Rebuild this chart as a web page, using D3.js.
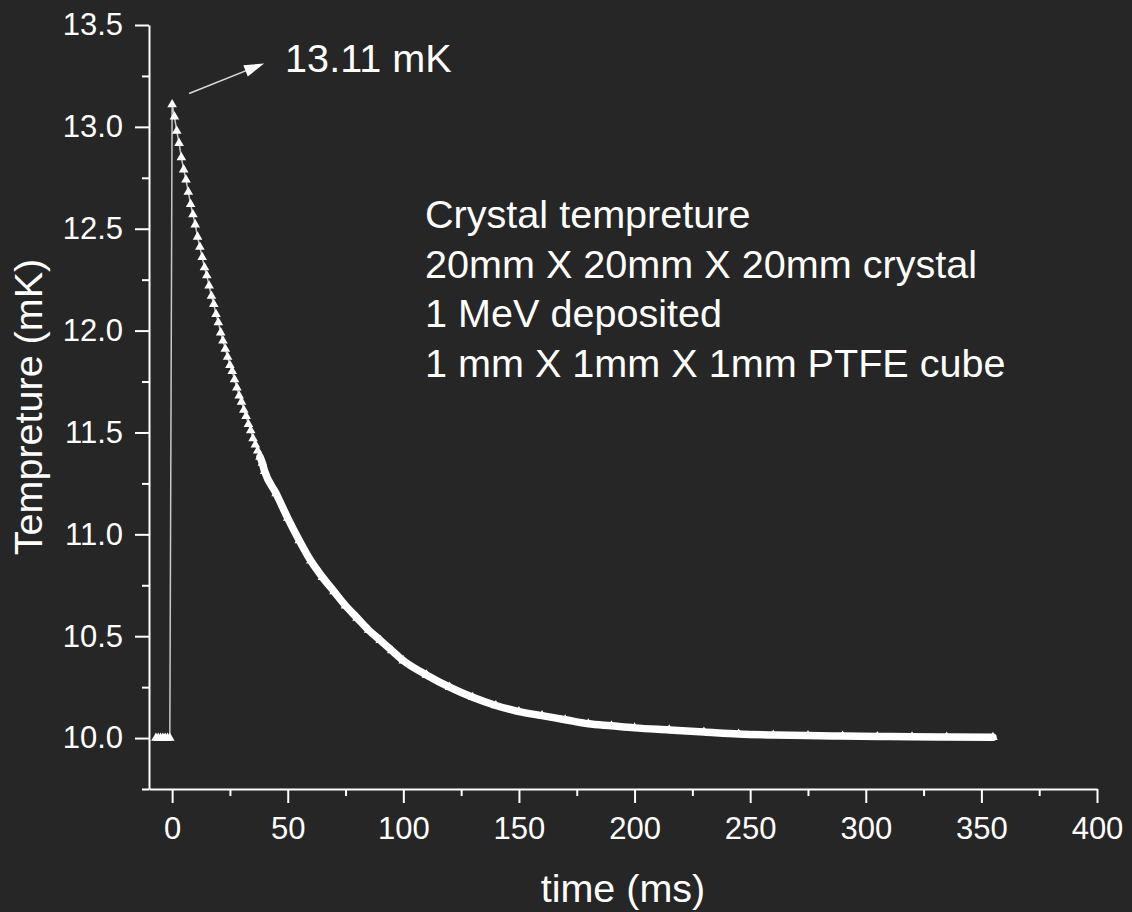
<!DOCTYPE html>
<meta charset="utf-8">
<style>

body {
  margin: 0;
  background: #262626;
}

svg {
  display: block;
  font-family: Arial, "Liberation Sans", sans-serif;
}

.axis path,
.axis line {
  fill: none;
  stroke: #fff;
  stroke-width: 2;
}

.axis text {
  fill: #fff;
  font-size: 31px;
}

.title {
  fill: #fff;
  font-size: 39.5px;
}

.note {
  fill: #fff;
  font-size: 39.6px;
}

</style>

<div id="chart"></div>

<script src="https://d3js.org/d3.v7.min.js"></script>
<script>
// values (ms, mK)
var time = [-7, -6, -5, -4, -3, -2, -1,
  0, 1, 2, 3, 4, 5, 6, 7, 8, 9, 10, 11, 12, 13, 14, 15, 16, 17, 18, 19, 20,
  21, 22, 23, 24, 25, 26, 27, 28, 29, 30, 31, 32, 33, 34, 35, 36, 37, 38, 39, 40,
  45, 50, 55, 60, 65, 70, 75, 80, 85, 90, 95, 100,
  110, 120, 130, 140, 150, 160, 170, 180, 190, 200,
  215, 230, 245, 260, 275, 290, 305, 320, 335, 355];

var temp = [10, 10, 10, 10, 10, 10, 10,
  13.11, 13.05, 12.98, 12.92, 12.85, 12.79, 12.74, 12.68, 12.62, 12.57, 12.52,
  12.46, 12.41, 12.36, 12.31, 12.27, 12.22, 12.17, 12.13, 12.08, 12.04,
  11.99, 11.95, 11.91, 11.87, 11.83, 11.80, 11.76, 11.72, 11.68, 11.65,
  11.61, 11.58, 11.54, 11.51, 11.47, 11.44, 11.41, 11.38, 11.35, 11.31,
  11.20, 11.08, 10.97, 10.87, 10.79, 10.72, 10.65, 10.59, 10.53, 10.48, 10.43, 10.38,
  10.31, 10.25, 10.20, 10.16, 10.13, 10.11, 10.09, 10.07, 10.06, 10.05,
  10.04, 10.03, 10.02, 10.015, 10.012, 10.01, 10.008, 10.006, 10.005, 10.004];

var xMajor = [0, 50, 100, 150, 200, 250, 300, 350, 400];
var xMinor = [25, 75, 125, 175, 225, 275, 325, 375];
var yMajor = [10.0, 10.5, 11.0, 11.5, 12.0, 12.5, 13.0, 13.5];
var yMinor = [9.75, 10.25, 10.75, 11.25, 11.75, 12.25, 12.75, 13.25];

var notes = ["Crystal tempreture", "20mm X 20mm X 20mm crystal",
  "1 MeV deposited", "1 mm X 1mm X 1mm PTFE cube"];
var peakLabel = "13.11 mK";

var width = 1132, height = 912;
var margin = {top: 25, right: 35, bottom: 123, left: 149};

var data = time.map(function(t, i) { return {t: t, v: temp[i]}; });

var svg = d3.select("#chart").append("svg")
    .attr("width", width)
    .attr("height", height);

var x = d3.scaleLinear().domain([-10, 400]).range([margin.left, width - margin.right]);
var y = d3.scaleLinear().domain([9.75, 13.5]).range([height - margin.bottom, margin.top]);

var yBase = height - margin.bottom;

// axes
svg.append("g")
    .attr("class", "axis")
    .attr("transform", "translate(0," + yBase + ")")
    .call(d3.axisBottom(x).tickValues(xMajor).tickSize(14).tickSizeOuter(0).tickPadding(14));

svg.append("g")
    .attr("class", "axis")
    .attr("transform", "translate(0," + yBase + ")")
    .call(d3.axisBottom(x).tickValues(xMinor).tickSize(7).tickFormat(""))
    .call(function(g) { g.select(".domain").remove(); });

svg.append("g")
    .attr("class", "axis")
    .attr("transform", "translate(" + margin.left + ",0)")
    .call(d3.axisLeft(y).tickValues(yMajor).tickSize(14).tickSizeOuter(0).tickPadding(12)
      .tickFormat(d3.format(".1f")));

svg.append("g")
    .attr("class", "axis")
    .attr("transform", "translate(" + margin.left + ",0)")
    .call(d3.axisLeft(y).tickValues(yMinor).tickSize(7).tickFormat(""))
    .call(function(g) { g.select(".domain").remove(); });

// axis titles
svg.append("text")
    .attr("class", "title")
    .attr("text-anchor", "middle")
    .attr("x", (x.range()[0] + x.range()[1]) / 2)
    .attr("y", 902)
    .text("time (ms)");

svg.append("text")
    .attr("class", "title")
    .attr("text-anchor", "middle")
    .attr("transform", "translate(42," + (y.range()[0] + y.range()[1]) / 2 + ") rotate(-90)")
    .text("Tempreture (mK)");

// connecting line
svg.append("path")
    .datum(data)
    .attr("fill", "none")
    .attr("stroke", "#c8c8c8")
    .attr("stroke-width", 1.5)
    .attr("d", d3.line()
      .x(function(d) { return x(d.t); })
      .y(function(d) { return y(d.v); }));

// dense part of the series, where the symbols run together
svg.append("path")
    .datum(data.filter(function(d) { return d.t >= 38; }))
    .attr("fill", "none")
    .attr("stroke", "#fff")
    .attr("stroke-width", 7.5)
    .attr("stroke-linecap", "round")
    .attr("d", d3.line().curve(d3.curveMonotoneX)
      .x(function(d) { return x(d.t); })
      .y(function(d) { return y(d.v); }));

// triangles
svg.append("g").selectAll("path")
    .data(data)
  .enter().append("path")
    .attr("fill", "#fff")
    .attr("transform", function(d) { return "translate(" + x(d.t) + "," + y(d.v) + ")"; })
    .attr("d", d3.symbol().type(d3.symbolTriangle).size(40));

// peak annotation
var peak = data[d3.maxIndex(data, function(d) { return d.v; })];
var px = x(peak.t), py = y(peak.v);
var a0 = [px + 17, py - 11], a1 = [px + 92, py - 41];
var ang = Math.atan2(a1[1] - a0[1], a1[0] - a0[0]);
var hl = 20, hw = 6;

svg.append("line")
    .attr("x1", a0[0]).attr("y1", a0[1])
    .attr("x2", a1[0] - Math.cos(ang) * hl * 0.8)
    .attr("y2", a1[1] - Math.sin(ang) * hl * 0.8)
    .attr("stroke", "#ddd")
    .attr("stroke-width", 1.5);

var bx = a1[0] - Math.cos(ang) * hl, by = a1[1] - Math.sin(ang) * hl;
svg.append("path")
    .attr("fill", "#fff")
    .attr("d", "M" + a1[0] + "," + a1[1] +
      "L" + (bx - Math.sin(ang) * hw) + "," + (by + Math.cos(ang) * hw) +
      "L" + (bx + Math.sin(ang) * hw) + "," + (by - Math.cos(ang) * hw) + "Z");

svg.append("text")
    .attr("class", "note")
    .attr("x", px + 113)
    .attr("y", 72)
    .text(peakLabel);

// description block
svg.append("g").selectAll("text")
    .data(notes)
  .enter().append("text")
    .attr("class", "note")
    .attr("x", 425)
    .attr("y", function(d, i) { return 228 + i * 49.5; })
    .text(function(d) { return d; });

</script>
